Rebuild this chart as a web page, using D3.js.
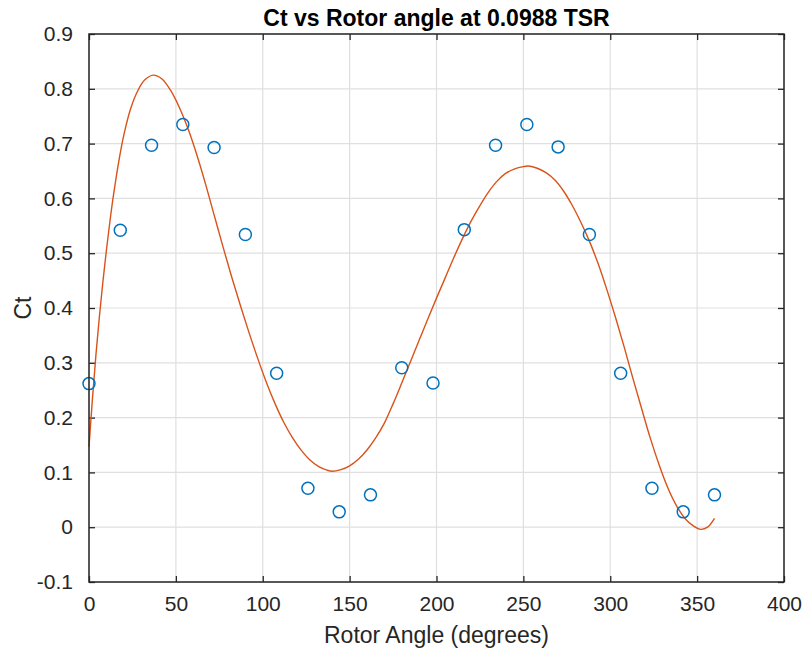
<!DOCTYPE html>
<html>
<head>
<meta charset="utf-8">
<script src="https://cdn.jsdelivr.net/npm/d3@7"></script>
<style>
  html, body { margin: 0; padding: 0; background: #fff; }
  svg { display: block; }
  text { font-family: "Liberation Sans", Arial, Helvetica, sans-serif; }
</style>
</head>
<body>
<svg id="chart" width="807" height="654"></svg>
<script>
// ---- data ----
const angles = [0, 18, 36, 54, 72, 90, 108, 126, 144, 162, 180, 198, 216, 234, 252, 270, 288, 306, 324, 342, 360];
const ctValues = [0.262, 0.542, 0.697, 0.735, 0.693, 0.534, 0.281, 0.071, 0.028, 0.059, 0.291, 0.263, 0.543, 0.697, 0.735, 0.694, 0.534, 0.281, 0.071, 0.028, 0.059];

// fitted curve
const fitAngles = [0, 2, 4, 6, 8, 10, 12, 14, 17, 20, 24, 28, 32, 37, 42, 47, 52, 57, 62, 67, 72, 77, 82, 87, 92, 97, 102, 107, 112, 117, 122, 127, 132, 137, 140, 145, 150, 155, 160, 165, 170, 175, 180, 185, 190, 195, 200, 205, 210, 215, 220, 225, 230, 235, 240, 245, 250, 253, 258, 263, 268, 273, 278, 283, 288, 293, 298, 303, 308, 313, 318, 323, 328, 333, 338, 343, 348, 352, 356, 360];
const fitValues = [0.147, 0.235, 0.315, 0.385, 0.448, 0.505, 0.557, 0.604, 0.665, 0.715, 0.764, 0.796, 0.816, 0.825, 0.818, 0.797, 0.766, 0.727, 0.680, 0.627, 0.570, 0.513, 0.458, 0.406, 0.356, 0.309, 0.265, 0.226, 0.192, 0.164, 0.141, 0.123, 0.111, 0.104, 0.102, 0.105, 0.112, 0.124, 0.141, 0.163, 0.190, 0.225, 0.263, 0.302, 0.341, 0.380, 0.418, 0.455, 0.492, 0.527, 0.559, 0.587, 0.612, 0.632, 0.646, 0.654, 0.658, 0.659, 0.655, 0.647, 0.634, 0.614, 0.588, 0.557, 0.522, 0.481, 0.434, 0.383, 0.329, 0.272, 0.217, 0.163, 0.115, 0.073, 0.040, 0.016, 0.002, -0.004, 0.000, 0.016];

const xTicks = [0, 50, 100, 150, 200, 250, 300, 350, 400];
const yTicks = [-0.1, 0, 0.1, 0.2, 0.3, 0.4, 0.5, 0.6, 0.7, 0.8, 0.9];

const titleText = "Ct vs Rotor angle at 0.0988 TSR";
const xLabelText = "Rotor Angle (degrees)";
const yLabelText = "Ct";

// ---- layout ----
const mLeft = 89, mRight = 784, mTop = 34, mBottom = 582;
const svg = d3.select("#chart");
const x = d3.scaleLinear().domain([0, 400]).range([mLeft, mRight]);
const y = d3.scaleLinear().domain([-0.1, 0.9]).range([mBottom, mTop]);

const axisColor = "#262626";
const gridColor = "#dfdfdf";

// grid
const g = svg.append("g");
g.selectAll("line.gx").data(xTicks).join("line")
  .attr("x1", d => x(d)).attr("x2", d => x(d))
  .attr("y1", mTop).attr("y2", mBottom)
  .attr("stroke", gridColor).attr("stroke-width", 1.2);
g.selectAll("line.gy").data(yTicks).join("line")
  .attr("y1", d => y(d)).attr("y2", d => y(d))
  .attr("x1", mLeft).attr("x2", mRight)
  .attr("stroke", gridColor).attr("stroke-width", 1.2);

// axes (ticks inward)
const fmtY = d => String(Math.round(d * 10) / 10);
const xAxisB = d3.axisBottom(x).tickValues(xTicks).tickSize(-6).tickPadding(14).tickFormat(d3.format("d"));
const xAxisT = d3.axisTop(x).tickValues(xTicks).tickSize(-6).tickFormat("");
const yAxisL = d3.axisLeft(y).tickValues(yTicks).tickSize(-6).tickPadding(16).tickFormat(fmtY);
const yAxisR = d3.axisRight(y).tickValues(yTicks).tickSize(-6).tickFormat("");

function styleAxis(sel) {
  sel.selectAll("path.domain").remove();
  sel.selectAll(".tick line").attr("stroke", axisColor).attr("stroke-width", 1.3);
  sel.selectAll(".tick text").attr("fill", axisColor).style("font-size", "21px")
    .style("font-family", '"Liberation Sans", Arial, sans-serif');
}
const gxB = svg.append("g").attr("transform", `translate(0,${mBottom})`).call(xAxisB);
const gxT = svg.append("g").attr("transform", `translate(0,${mTop})`).call(xAxisT);
const gyL = svg.append("g").attr("transform", `translate(${mLeft},0)`).call(yAxisL);
const gyR = svg.append("g").attr("transform", `translate(${mRight},0)`).call(yAxisR);
[gxB, gxT, gyL, gyR].forEach(styleAxis);

// fitted curve
const fitData = fitAngles.map((a, i) => [a, fitValues[i]]);
svg.append("path")
  .datum(fitData)
  .attr("fill", "none")
  .attr("stroke", "#D95319")
  .attr("stroke-width", 1.4)
  .attr("d", d3.line().x(d => x(d[0])).y(d => y(d[1])).curve(d3.curveCatmullRom.alpha(0.5)));

// data points
const pts = angles.map((a, i) => [a, ctValues[i]]);
svg.append("g").selectAll("circle").data(pts).join("circle")
  .attr("cx", d => x(d[0])).attr("cy", d => y(d[1])).attr("r", 6)
  .attr("fill", "none").attr("stroke", "#0072BD").attr("stroke-width", 1.5);

// box
svg.append("rect")
  .attr("x", mLeft).attr("y", mTop).attr("width", mRight - mLeft).attr("height", mBottom - mTop)
  .attr("fill", "none").attr("stroke", axisColor).attr("stroke-width", 1.5);

// title & labels
svg.append("text").attr("x", (mLeft + mRight) / 2).attr("y", 26)
  .attr("text-anchor", "middle").style("font-size", "23px").style("font-weight", "bold")
  .attr("fill", "#000").text(titleText);
svg.append("text").attr("x", (mLeft + mRight) / 2).attr("y", 643)
  .attr("text-anchor", "middle").style("font-size", "23px")
  .attr("fill", axisColor).text(xLabelText);
svg.append("text").attr("transform", `translate(31,${(mTop + mBottom) / 2}) rotate(-90)`)
  .attr("text-anchor", "middle").style("font-size", "23px")
  .attr("fill", axisColor).text(yLabelText);
</script>
</body>
</html>
